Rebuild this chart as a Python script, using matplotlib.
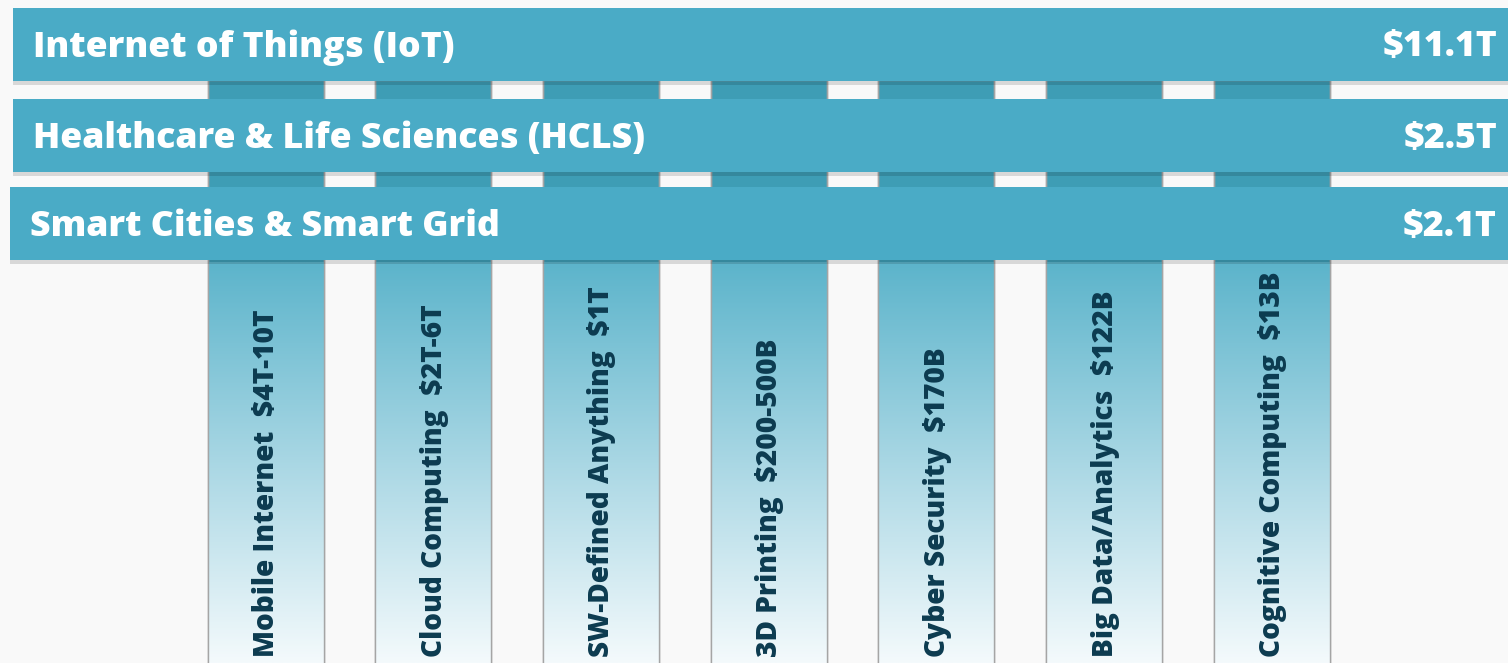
import numpy as np
import matplotlib.pyplot as plt
from matplotlib.colors import LinearSegmentedColormap

# horizontale baand (markeder)
band_names = ["Internet of Things (IoT)", "Healthcare & Life Sciences (HCLS)", "Smart Cities & Smart Grid"]
band_values = ["$11.1T", "$2.5T", "$2.1T"]

# loddrette soyler (teknologier)
col_names = ["Mobile Internet", "Cloud Computing", "SW-Defined Anything", "3D Printing",
             "Cyber Security", "Big Data/Analytics", "Cognitive Computing"]
col_values = ["$4T-10T", "$2T-6T", "$1T", "$200-500B", "$170B", "$122B", "$13B"]

W, H = 1508, 663
fig = plt.figure(figsize=(W / 100, H / 100), dpi=100)
fig.patch.set_facecolor('#f9f9f9')
ax = fig.add_axes([0, 0, 1, 1])
ax.set_xlim(0, W)
ax.set_ylim(H, 0)
ax.axis('off')

font = 'Open Sans'
weight = 800
band_color = '#4aabc6'
col_top = '#3e9db5'
text_dark = '#0c3b50'

# soylene
xs = 265.5 + 167.7 * np.arange(len(col_names))
bars = ax.bar(xs, H - 80, bottom=80, width=116, color=col_top,
              edgecolor='#9a9a9a', linewidth=1.0, zorder=1)

cmap = LinearSegmentedColormap.from_list('fade', ['#5cb4cb', '#a9d7e4', '#f4fafc'])
grad = np.linspace(0, 1, 256).reshape(-1, 1)
for b in bars:
    x0 = b.get_x()
    x1 = x0 + b.get_width()
    ax.imshow(grad, cmap=cmap, aspect='auto', extent=(x0, x1, H, 262),
              zorder=2, interpolation='bilinear')
    ax.plot([x0, x0], [80, H], color='#a5a5a5', lw=1.0, zorder=3)
    ax.plot([x1, x1], [80, H], color='#a5a5a5', lw=1.0, zorder=3)

for x, name, val in zip(xs, col_names, col_values):
    ax.text(x + 1, 657, name + "  " + val, rotation=90, ha='center', va='bottom',
            color=text_dark, fontsize=20.2, fontweight=weight, family=font,
            parse_math=False, zorder=4)

# baandene med skygge
band_tops = [8, 99, 187]
band_h = 73
band_left = [13, 13, 10]
for i, (top, left) in enumerate(zip(band_tops, band_left)):
    ax.barh(top + band_h / 2 + 4, W - left, left=left, height=band_h,
            color='black', alpha=0.13, zorder=5)
    ax.barh(top + band_h / 2, W - left, left=left, height=band_h,
            color=band_color, zorder=6)
    ax.text(left + 20, top + band_h / 2 + 3, band_names[i], ha='left', va='center',
            color='white', fontsize=25.7, fontweight=weight, family=font,
            parse_math=False, zorder=7)
    ax.text(W - 11, top + band_h / 2 + 3, band_values[i], ha='right', va='center',
            color='white', fontsize=25.7, fontweight=weight, family=font,
            parse_math=False, zorder=7)

plt.savefig("out.png", dpi=100, facecolor=fig.get_facecolor())
